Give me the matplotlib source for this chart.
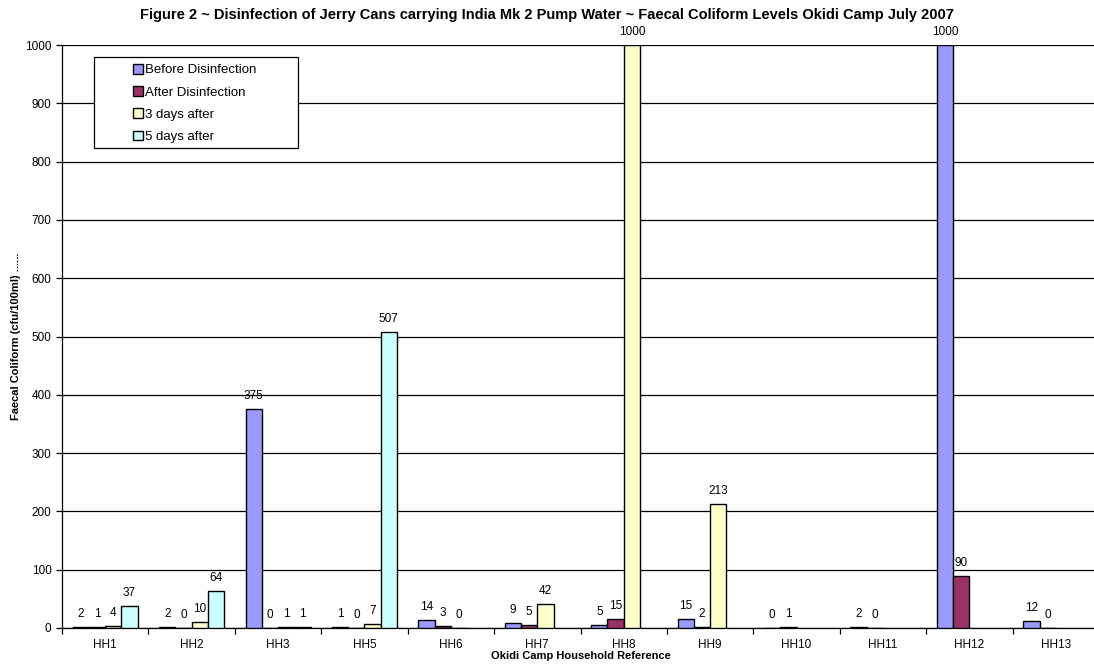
import numpy as np
import matplotlib
matplotlib.use("Agg")
import matplotlib.pyplot as plt
from matplotlib.patches import Rectangle

plt.rcParams["font.family"] = ["Liberation Sans", "DejaVu Sans"]

households = ["HH1", "HH2", "HH3", "HH5", "HH6", "HH7", "HH8", "HH9",
              "HH10", "HH11", "HH12", "HH13"]
nan = np.nan
before = [2, 2, 375, 1, 14, 9, 5, 15, 0, 2, 1000, 12]
after = [1, 0, 0, 0, 3, 5, 15, 2, 1, 0, 90, 0]
days3 = [4, 10, 1, 7, 0, 42, 1000, 213, nan, nan, nan, nan]
days5 = [37, 64, 1, 507, nan, nan, nan, nan, nan, nan, nan, nan]

series = [
    ("Before Disinfection", before, "#9999FF"),
    ("After Disinfection", after, "#993366"),
    ("3 days after", days3, "#FFFFCC"),
    ("5 days after", days5, "#CCFFFF"),
]

W, H = 1094, 667
fig = plt.figure(figsize=(W / 100, H / 100), dpi=100)
ax = fig.add_axes([62 / W, 39 / H, 1037 / W, 583 / H])

x = np.arange(len(households))
w = 0.188
for i, (name, vals, color) in enumerate(series):
    vals = np.array(vals, dtype=float)
    pos = x + (i - 1.5) * w
    ax.bar(pos, vals, width=w, color=color, edgecolor="black",
           linewidth=1.0, label=name, zorder=3)
    for p, v in zip(pos, vals):
        if np.isnan(v):
            continue
        ax.text(p, v + 12, f"{int(v)}", ha="center", va="bottom",
                fontsize=8.5, clip_on=False, zorder=4)

ax.set_xlim(-0.5, len(households) - 0.5)
ax.set_ylim(0, 1000)
ax.set_yticks(np.arange(0, 1001, 100))
ax.yaxis.grid(True, color="black", linewidth=0.9, zorder=0)
ax.set_axisbelow(True)

ax.set_xticks(x)
ax.set_xticklabels(households, fontsize=8.5)
ax.set_xticks(np.arange(-0.5, len(households), 1), minor=True)
ax.tick_params(axis="x", which="major", length=0, pad=8)
ax.tick_params(axis="x", which="minor", length=4, width=0.9, direction="out")
ax.tick_params(axis="y", labelsize=8.5, length=4, width=0.9, direction="out")

for s in ["top", "right"]:
    ax.spines[s].set_visible(False)
for s in ["left", "bottom"]:
    ax.spines[s].set_linewidth(0.9)

ax.set_ylabel("Faecal Coliform (cfu/100ml) ......", fontsize=8,
              fontweight="bold", labelpad=3)
ax.set_xlabel("Okidi Camp Household Reference", fontsize=8,
              fontweight="bold", labelpad=0)
fig.text(0.5, 1 - 15 / H,
         "Figure 2 ~ Disinfection of Jerry Cans carrying India Mk 2 Pump Water ~ "
         "Faecal Coliform Levels Okidi Camp July 2007",
         ha="center", va="center", fontsize=10.5, fontweight="bold")

# legend frame drawn separately to get the wide side padding
frame = Rectangle((94 / W, 1 - 148 / H), 204 / W, 91 / H, transform=fig.transFigure,
                  facecolor="white", edgecolor="black", linewidth=0.9, zorder=5)
fig.add_artist(frame)
leg = fig.legend(*ax.get_legend_handles_labels(), loc="upper left",
                 bbox_to_anchor=(133 / W, 1 - 64 / H), fontsize=9.5,
                 frameon=False, handlelength=0.75, handleheight=0.75,
                 handletextpad=0.15, labelspacing=0.74, borderpad=0,
                 borderaxespad=0)
leg.set_zorder(6)

fig.savefig("out.png", dpi=100)
